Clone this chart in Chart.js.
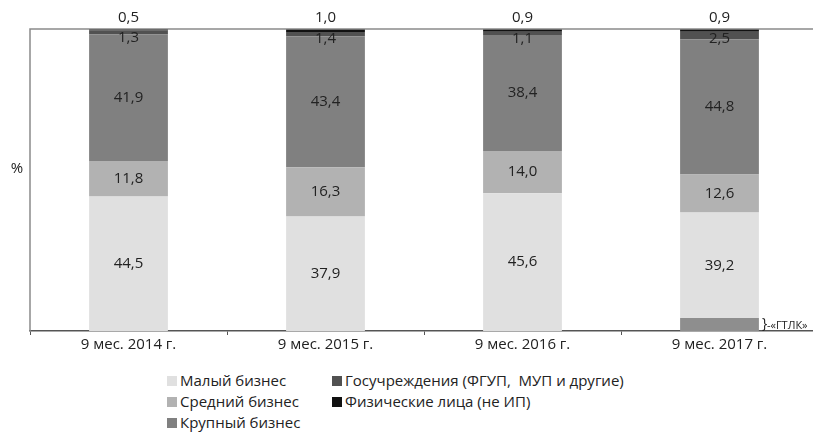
<!DOCTYPE html>
<html>
<head>
<meta charset="utf-8">
<script src="https://cdn.jsdelivr.net/npm/chart.js@4"></script>
<style>
  html, body { margin: 0; padding: 0; background: #fff; overflow: hidden; width: 813px; height: 432px; }
  #wrap { position: absolute; left: 0; top: 0; width: 830px; height: 360px; }
  .legend { position: absolute; font-family: 'Open Sans', sans-serif; font-size: 15px; color: #222; }
  .item { position: absolute; white-space: pre; line-height: 18px; }
  .sw { display: inline-block; width: 10px; height: 10px; margin-right: 3px; vertical-align: 0px; }
</style>
</head>
<body>
<div id="wrap"><canvas id="chart" width="830" height="360"></canvas></div>
<div class="legend" id="legend"></div>
<script>
/* stacked shares of lessees, % */

const categories = ['9 мес. 2014 г.', '9 мес. 2015 г.', '9 мес. 2016 г.', '9 мес. 2017 г.'];

const small = [44.5, 37.9, 45.6, 39.2];
const medium = [11.8, 16.3, 14.0, 12.6];
const large = [41.9, 43.4, 38.4, 44.8];
const gov = [1.3, 1.4, 1.1, 2.5];
const persons = [0.5, 1.0, 0.9, 0.9];
// ГТЛК share drawn at the bottom of the small-business bar (2017)
const gtlk = [0, 0, 0, 4.3];

const COLORS = {
  small: '#e0e0e0',
  medium: '#b2b2b2',
  large: '#808080',
  gov: '#515151',
  persons: '#111111',
  gtlk: '#8e8e8e',
  text: '#222',
};

const FONT = "'Open Sans', sans-serif";

const ds = (label, data, color, shown) => ({
  label, data, backgroundColor: color, shown,
  barPercentage: 1, categoryPercentage: 0.4, borderWidth: 0,
});

const datasets = [
  ds('ГТЛК', gtlk, COLORS.gtlk, null),
  ds('Малый бизнес', small.map((v, i) => v - gtlk[i]), COLORS.small, small),
  ds('Средний бизнес', medium, COLORS.medium, medium),
  ds('Крупный бизнес', large, COLORS.large, large),
  ds('Госучреждения (ФГУП,  МУП и другие)', gov, COLORS.gov, gov),
  ds('Физические лица (не ИП)', persons, COLORS.persons, persons),
];

const fmt = v => v.toFixed(1).replace('.', ',');

const labelsPlugin = {
  id: 'labels',
  afterDatasetsDraw(chart) {
    const { ctx, chartArea } = chart;
    ctx.save();
    // frame: left and top lines
    ctx.strokeStyle = '#8a8a8a';
    ctx.lineWidth = 1.5;
    ctx.beginPath();
    ctx.moveTo(chartArea.left, chartArea.bottom);
    ctx.lineTo(chartArea.left, chartArea.top);
    ctx.lineTo(chart.width, chartArea.top);
    ctx.stroke();

    ctx.font = '15px ' + FONT;
    ctx.fillStyle = COLORS.text;
    ctx.textAlign = 'center';
    ctx.textBaseline = 'middle';
    chart.data.datasets.forEach((d, di) => {
      if (!d.shown) return;
      const meta = chart.getDatasetMeta(di);
      meta.data.forEach((el, i) => {
        let y = (el.y + el.base) / 2;
        if (di === 4) y = el.y + 7;
        if (di === 5) y = chartArea.top - 11;
        ctx.fillText(fmt(d.shown[i]), el.x, y);
      });
    });

    // «ГТЛК» note next to the 2017 segment
    const g = chart.getDatasetMeta(0).data[3];
    const gx = g.x + g.width / 2 + 3;
    const gy = (g.y + g.base) / 2;
    ctx.font = '14px ' + FONT;
    ctx.textAlign = 'left';
    ctx.fillText('}', gx, gy);
    ctx.font = '11px ' + FONT;
    ctx.fillText('-«ГТЛК»', gx + 5, gy + 1);

    // "%" axis mark
    ctx.font = '15px ' + FONT;
    ctx.textAlign = 'center';
    ctx.fillText('%', 17, 169);
    ctx.restore();
  },
};

new Chart(document.getElementById('chart'), {
  type: 'bar',
  data: { labels: categories, datasets },
  options: {
    responsive: false,
    animation: false,
    layout: { padding: { left: 30, top: 29, right: 12, bottom: 0 } },
    plugins: { legend: { display: false }, tooltip: { enabled: false } },
    scales: {
      x: {
        stacked: true,
        grid: { drawOnChartArea: false, tickLength: 4, color: '#555', offset: true },
        border: { color: '#555', width: 1.5 },
        ticks: { color: COLORS.text, font: { family: FONT, size: 15 }, padding: 1 },
        afterFit: s => { s.height = 29; },
      },
      y: {
        stacked: true,
        display: false,
        min: 0,
        max: 100,
      },
    },
  },
  plugins: [labelsPlugin],
});

// legend in two columns, like the original
const legendItems = [
  ['Малый бизнес', COLORS.small, 167, 371],
  ['Средний бизнес', COLORS.medium, 167, 392],
  ['Крупный бизнес', COLORS.large, 167, 413],
  ['Госучреждения (ФГУП,  МУП и другие)', COLORS.gov, 332, 371],
  ['Физические лица (не ИП)', COLORS.persons, 332, 392],
];
const leg = document.getElementById('legend');
legendItems.forEach(([text, color, x, y]) => {
  const el = document.createElement('div');
  el.className = 'item';
  el.style.left = x + 'px';
  el.style.top = y + 'px';
  el.innerHTML = '<span class="sw" style="background:' + color + '"></span>' + text;
  leg.appendChild(el);
});
</script>
</body>
</html>
